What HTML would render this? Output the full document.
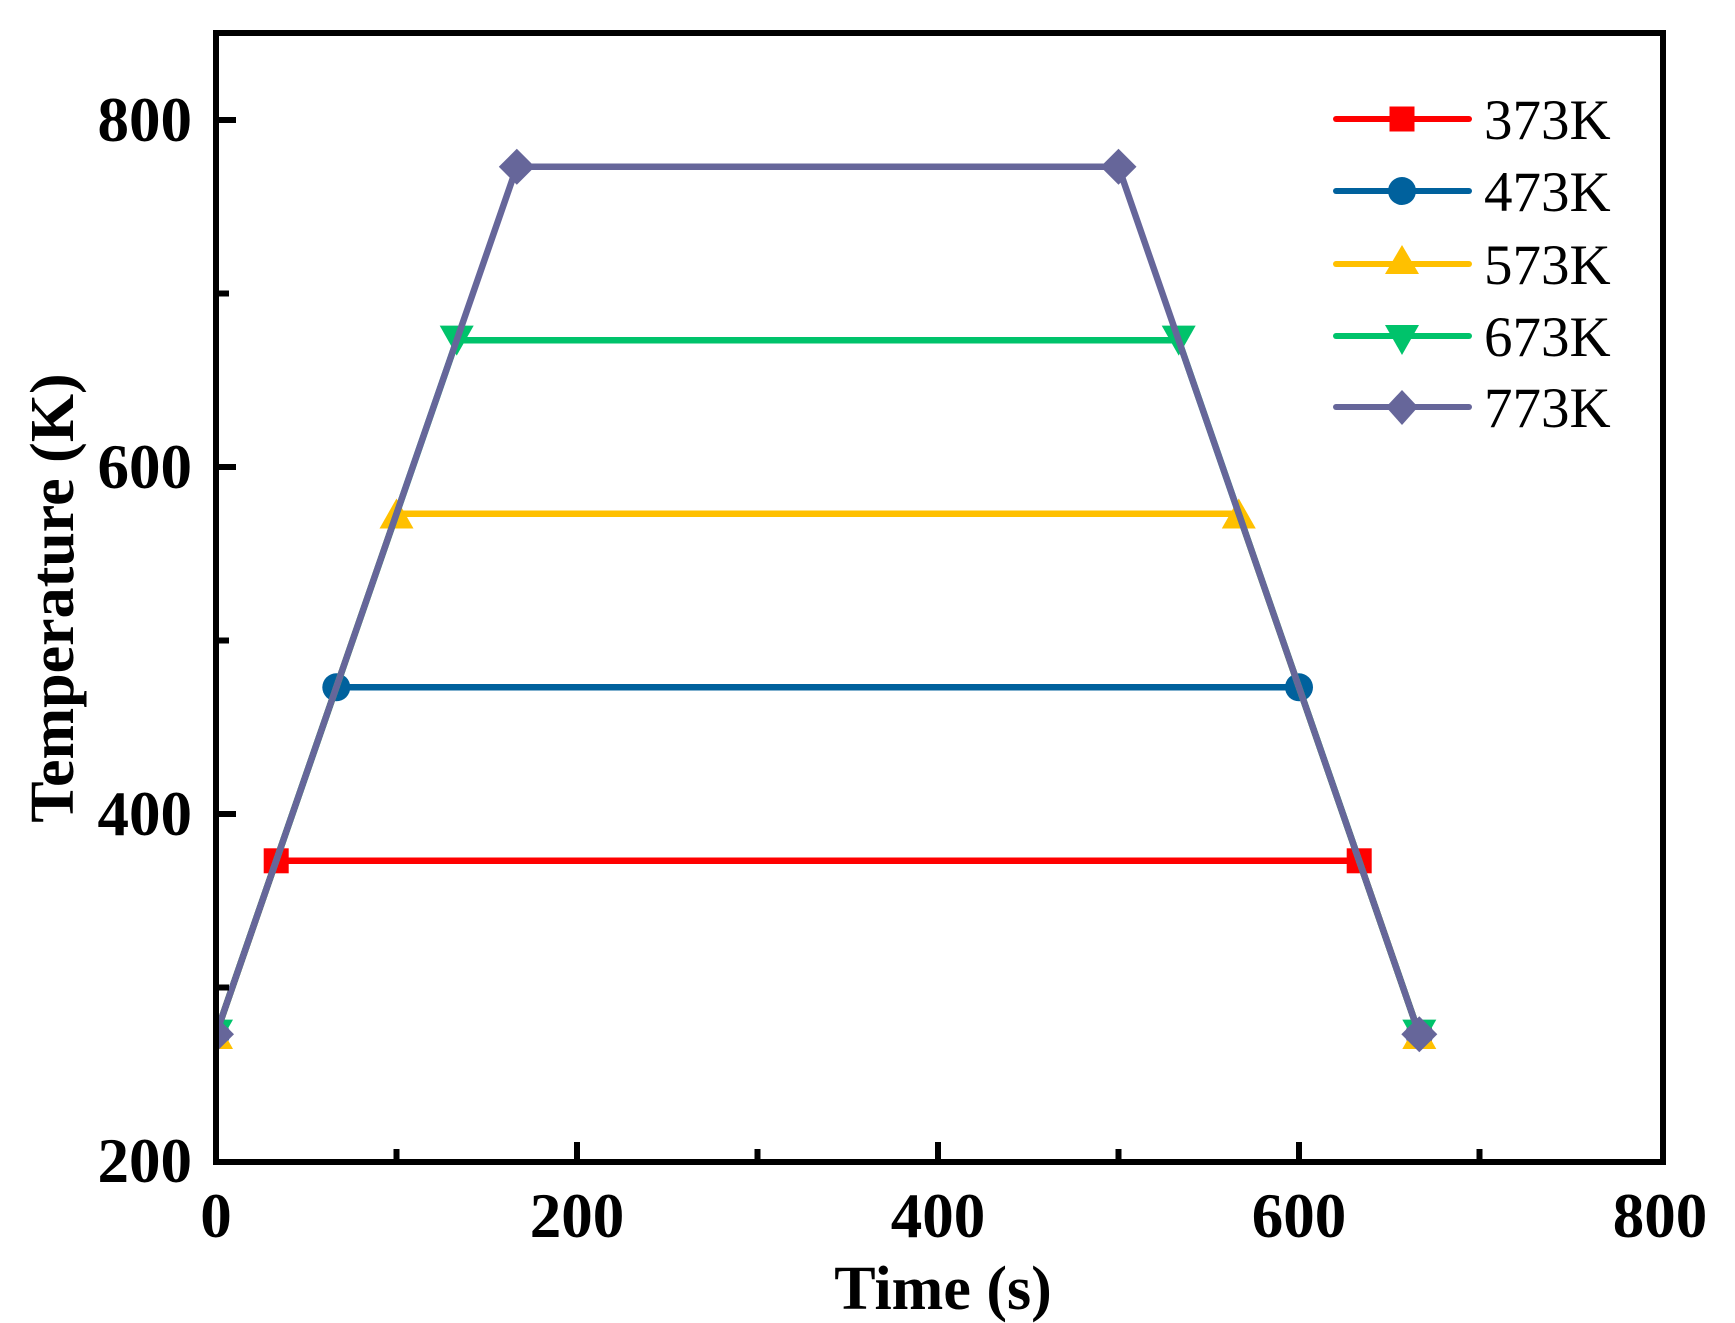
<!DOCTYPE html>
<html><head><meta charset="utf-8"><style>html,body{margin:0;padding:0;background:#fff}svg{display:block}</style></head>
<body>
<svg width="1735" height="1323" viewBox="0 0 1735 1323" xmlns="http://www.w3.org/2000/svg" font-family="'Liberation Serif', serif">
<defs><clipPath id="c"><rect x="219" y="36" width="1441" height="1123"/></clipPath></defs>
<g clip-path="url(#c)" stroke-width="6.5" fill="none" stroke-linejoin="round">
<g stroke="#FF0000"><polyline points="216,1034.3 276.2,860.8 1359.2,860.8 1419.3,1034.3"/></g>
<g fill="#FF0000"><rect x="203.5" y="1021.8" width="25" height="25"/><rect x="263.7" y="848.3" width="25" height="25"/><rect x="1346.7" y="848.3" width="25" height="25"/><rect x="1406.8" y="1021.8" width="25" height="25"/></g>
<g stroke="#00619D"><polyline points="216,1034.3 336.3,687.3 1299,687.3 1419.3,1034.3"/></g>
<g fill="#00619D"><circle cx="216" cy="1034.3" r="14"/><circle cx="336.3" cy="687.3" r="14"/><circle cx="1299" cy="687.3" r="14"/><circle cx="1419.3" cy="1034.3" r="14"/></g>
<g stroke="#FFC000"><polyline points="216,1034.3 396.5,513.8 1238.8,513.8 1419.3,1034.3"/></g>
<g fill="#FFC000"><path d="M216,1019 l17,30 h-34z"/><path d="M396.5,498.5 l17,30 h-34z"/><path d="M1238.8,498.5 l17,30 h-34z"/><path d="M1419.3,1019 l17,30 h-34z"/></g>
<g stroke="#00C36B"><polyline points="216,1034.3 456.7,340.3 1178.7,340.3 1419.3,1034.3"/></g>
<g fill="#00C36B"><path d="M216,1049.6 l17,-30 h-34z"/><path d="M456.7,355.6 l17,-30 h-34z"/><path d="M1178.7,355.6 l17,-30 h-34z"/><path d="M1419.3,1049.6 l17,-30 h-34z"/></g>
<g stroke="#66669A"><polyline points="216,1034.3 516.8,166.8 1118.5,166.8 1419.3,1034.3"/></g>
<g fill="#66669A"><path d="M216,1016.3 l18,18 l-18,18 l-18,-18z"/><path d="M516.8,148.8 l18,18 l-18,18 l-18,-18z"/><path d="M1118.5,148.8 l18,18 l-18,18 l-18,-18z"/><path d="M1419.3,1016.3 l18,18 l-18,18 l-18,-18z"/></g>
</g>
<rect x="216" y="33" width="1447" height="1129" fill="none" stroke="#000" stroke-width="6"/>
<g stroke="#000" stroke-width="6">
<line x1="216" y1="120" x2="236" y2="120"/><line x1="216" y1="293.5" x2="229" y2="293.5"/>
<line x1="216" y1="467" x2="236" y2="467"/><line x1="216" y1="640.5" x2="229" y2="640.5"/>
<line x1="216" y1="814" x2="236" y2="814"/><line x1="216" y1="987.5" x2="229" y2="987.5"/>
<line x1="396.5" y1="1162" x2="396.5" y2="1149"/><line x1="577" y1="1162" x2="577" y2="1142"/>
<line x1="757.5" y1="1162" x2="757.5" y2="1149"/><line x1="938" y1="1162" x2="938" y2="1142"/>
<line x1="1118.5" y1="1162" x2="1118.5" y2="1149"/><line x1="1299" y1="1162" x2="1299" y2="1142"/>
<line x1="1479.5" y1="1162" x2="1479.5" y2="1149"/>
</g>
<g font-weight="bold" font-size="63" fill="#000">
<g text-anchor="end"><text x="192" y="141">800</text><text x="192" y="488">600</text><text x="192" y="835">400</text><text x="192" y="1182">200</text></g>
<g text-anchor="middle"><text x="216" y="1237">0</text><text x="577" y="1237">200</text><text x="938" y="1237">400</text><text x="1299" y="1237">600</text><text x="1660" y="1237">800</text></g>
<text x="943" y="1309" text-anchor="middle" font-size="62">Time (s)</text>
<text transform="translate(73,598) rotate(-90)" text-anchor="middle" font-size="62">Temperature (K)</text>
</g>
<g stroke-width="6" stroke-linecap="round">
<line x1="1336" y1="119" x2="1469" y2="119" stroke="#FF0000"/>
<line x1="1336" y1="191" x2="1469" y2="191" stroke="#00619D"/>
<line x1="1336" y1="264" x2="1469" y2="264" stroke="#FFC000"/>
<line x1="1336" y1="336" x2="1469" y2="336" stroke="#00C36B"/>
<line x1="1336" y1="407" x2="1469" y2="407" stroke="#66669A"/>
</g>
<rect x="1389.5" y="106.5" width="25" height="25" fill="#FF0000"/>
<circle cx="1402" cy="191" r="14" fill="#00619D"/>
<path d="M1402,245 l17,29 h-34z" fill="#FFC000"/>
<path d="M1402,355 l17,-30 h-34z" fill="#00C36B"/>
<path d="M1402,390 l16,17 l-16,18 l-16,-18z" fill="#66669A"/>
<g font-size="57" fill="#000">
<text x="1484" y="139">373K</text><text x="1484" y="211">473K</text><text x="1484" y="284">573K</text><text x="1484" y="356">673K</text><text x="1484" y="427">773K</text>
</g>
</svg>
</body></html>
